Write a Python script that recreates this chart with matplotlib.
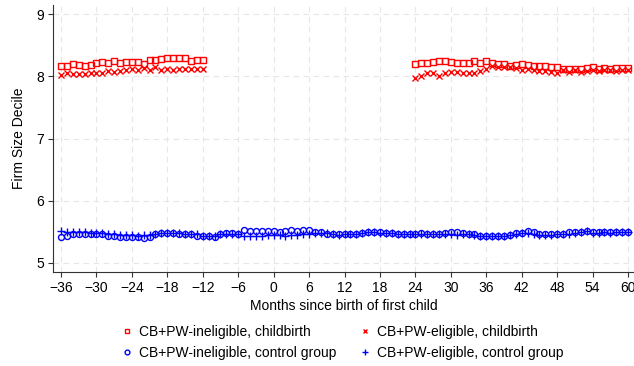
import numpy as np
import matplotlib
matplotlib.use('Agg')
import matplotlib.pyplot as plt

plt.rcParams['font.family'] = ['Liberation Sans', 'DejaVu Sans']

# Event time (months since birth of first child)
months_pre = list(range(-36, -11))
months_post = list(range(24, 61))
months_all = list(range(-36, 61))

# Childbirth groups, shown only outside the leave window
inel_birth_pre = [8.16, 8.17, 8.20, 8.18, 8.17, 8.18, 8.22, 8.23, 8.22, 8.25, 8.21, 8.23, 8.23,
                  8.23, 8.20, 8.26, 8.27, 8.28, 8.30, 8.30, 8.29, 8.29, 8.24, 8.26, 8.26]
inel_birth_post = [8.19, 8.21, 8.22, 8.23, 8.25, 8.25, 8.23, 8.22, 8.22, 8.21, 8.24, 8.21, 8.24,
                   8.22, 8.20, 8.20, 8.16, 8.18, 8.19, 8.18, 8.17, 8.16, 8.16, 8.15, 8.15, 8.12,
                   8.12, 8.11, 8.11, 8.14, 8.15, 8.12, 8.14, 8.12, 8.13, 8.13, 8.13]
elig_birth_pre = [8.02, 8.05, 8.04, 8.04, 8.03, 8.05, 8.06, 8.05, 8.08, 8.07, 8.09, 8.10, 8.12,
                  8.10, 8.13, 8.10, 8.15, 8.10, 8.12, 8.10, 8.11, 8.12, 8.11, 8.12, 8.12]
elig_birth_post = [7.98, 8.00, 8.05, 8.05, 8.01, 8.06, 8.07, 8.07, 8.06, 8.06, 8.05, 8.09, 8.11,
                   8.16, 8.15, 8.15, 8.15, 8.13, 8.10, 8.12, 8.10, 8.09, 8.08, 8.07, 8.06, 8.10,
                   8.07, 8.10, 8.07, 8.08, 8.10, 8.09, 8.10, 8.10, 8.09, 8.10, 8.10]

# Control groups, full window
inel_control = [5.41, 5.44, 5.47, 5.47, 5.47, 5.47, 5.46, 5.46, 5.44, 5.43, 5.41, 5.41, 5.41,
                5.41, 5.40, 5.41, 5.46, 5.48, 5.48, 5.48, 5.47, 5.47, 5.47, 5.44, 5.43, 5.44,
                5.42, 5.47, 5.48, 5.48, 5.47, 5.53, 5.52, 5.51, 5.51, 5.51, 5.51, 5.50, 5.52,
                5.53, 5.51, 5.53, 5.53, 5.49, 5.49, 5.47, 5.46, 5.46, 5.46, 5.47, 5.46, 5.48,
                5.49, 5.50, 5.49, 5.48, 5.48, 5.47, 5.46, 5.47, 5.47, 5.48, 5.46, 5.46, 5.47,
                5.48, 5.50, 5.49, 5.48, 5.47, 5.46, 5.44, 5.44, 5.43, 5.43, 5.43, 5.45, 5.48,
                5.48, 5.51, 5.50, 5.47, 5.46, 5.46, 5.47, 5.47, 5.49, 5.49, 5.50, 5.52, 5.49,
                5.49, 5.49, 5.49, 5.49, 5.49, 5.50]
elig_control = [5.52, 5.49, 5.49, 5.50, 5.49, 5.48, 5.48, 5.48, 5.46, 5.46, 5.45, 5.45, 5.45,
                5.44, 5.45, 5.45, 5.47, 5.48, 5.48, 5.48, 5.48, 5.46, 5.46, 5.46, 5.44, 5.44,
                5.44, 5.46, 5.46, 5.47, 5.47, 5.43, 5.44, 5.44, 5.44, 5.45, 5.45, 5.45, 5.44,
                5.45, 5.45, 5.46, 5.47, 5.48, 5.48, 5.48, 5.46, 5.45, 5.46, 5.46, 5.46, 5.48,
                5.49, 5.49, 5.48, 5.48, 5.48, 5.47, 5.46, 5.46, 5.47, 5.46, 5.46, 5.46, 5.46,
                5.47, 5.46, 5.45, 5.46, 5.46, 5.45, 5.44, 5.44, 5.44, 5.44, 5.43, 5.45, 5.47,
                5.48, 5.48, 5.46, 5.45, 5.45, 5.45, 5.46, 5.46, 5.47, 5.48, 5.49, 5.51, 5.48,
                5.48, 5.49, 5.48, 5.49, 5.49, 5.50]

x_ticks = list(range(-36, 61, 6))
y_ticks = [5, 6, 7, 8, 9]

fs = 10

fig = plt.figure(figsize=(6.34, 3.66), dpi=100)
ax = fig.add_axes([0.0836, 0.257, 0.9164, 0.729])

red = '#ff0000'
blue = '#0000ff'
sq = dict(marker='s', ms=4.3, mfc='none', mec=red, mew=1.0, ls='none')
xx = dict(marker='x', ms=4.3, color=red, mew=1.0, ls='none')
oo = dict(marker='o', ms=4.3, mfc='none', mec=blue, mew=1.0, ls='none')
pp = dict(marker='+', ms=5.5, color=blue, mew=1.0, ls='none')

h_sq, = ax.plot(months_pre, inel_birth_pre, **sq)
ax.plot(months_post, inel_birth_post, **sq)
h_x, = ax.plot(months_pre, elig_birth_pre, **xx)
ax.plot(months_post, elig_birth_post, **xx)
h_o, = ax.plot(months_all, inel_control, **oo)
h_p, = ax.plot(months_all, elig_control, **pp)

ax.set_xlim(-37.35, 61.0)
ax.set_ylim(4.856, 9.144)
ax.set_xticks(x_ticks)
ax.set_yticks(y_ticks)
ax.grid(True, color='#e6e6e6', ls=(0, (5, 4)), lw=0.8)
ax.set_axisbelow(True)
for s in ['top', 'right']:
    ax.spines[s].set_visible(False)
for s in ['left', 'bottom']:
    ax.spines[s].set_color('#333333')
ax.tick_params(direction='out', length=3.6, color='#333333', labelsize=fs, pad=3)
ax.set_xlabel('Months since birth of first child', fontsize=fs, labelpad=3)
ax.set_ylabel('Firm Size Decile', fontsize=fs, labelpad=7)

fig.legend([h_sq, h_o, h_x, h_p],
           ['CB+PW-ineligible, childbirth', 'CB+PW-ineligible, control group',
            'CB+PW-eligible, childbirth', 'CB+PW-eligible, control group'],
           ncol=2, loc='upper center', bbox_to_anchor=(0.539, 0.131), frameon=False,
           fontsize=fs, handlelength=1.0, handletextpad=0.4, columnspacing=1.5,
           labelspacing=0.5, borderpad=0, markerscale=0.8)

fig.savefig('out.png', dpi=100)
